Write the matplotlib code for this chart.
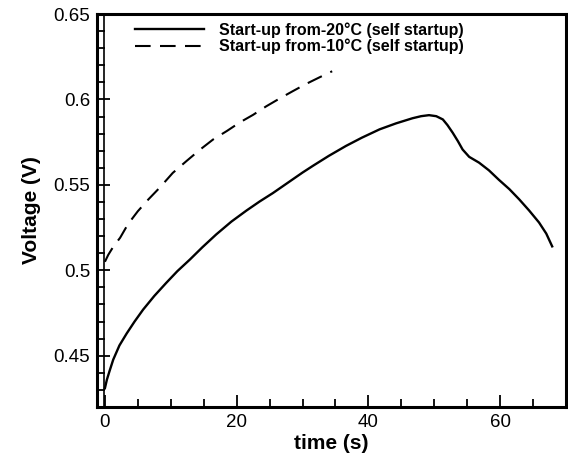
import numpy as np
import matplotlib
matplotlib.use("Agg")
import matplotlib.pyplot as plt
from matplotlib.ticker import MultipleLocator

plt.rcParams['font.family'] = ['Liberation Sans', 'DejaVu Sans']

# Start-up from -20C (self startup)
t_20 = [0.0, 0.3, 0.7, 1.26, 2.2, 3.3, 4.5, 5.8, 7.5, 9.3, 11.0, 12.9, 14.8,
        16.9, 19.2, 21.5, 23.5, 25.5, 27.0, 28.5, 30.0, 31.6, 34.0, 36.6,
        39.0, 41.7, 44.2, 46.7, 48.0, 49.2, 50.3, 51.3, 52.0, 52.8, 53.6, 54.3,
        55.3, 56.8, 58.3, 59.8, 61.4, 62.9, 64.4, 65.9, 67.0, 67.9]
v_20 = [0.431, 0.436, 0.441, 0.4477, 0.456, 0.463, 0.470, 0.477, 0.485,
        0.4926, 0.4995, 0.5063, 0.5135, 0.521, 0.5285, 0.535, 0.5403, 0.5452,
        0.5492, 0.5532, 0.5572, 0.5612, 0.567, 0.5728, 0.5776, 0.5825, 0.586,
        0.589, 0.5902, 0.5908, 0.5902, 0.5883, 0.5850, 0.5805, 0.5755, 0.5707,
        0.5664, 0.5630, 0.5585, 0.5530, 0.5475, 0.5415, 0.5350, 0.5280,
        0.5215, 0.5140]

# Start-up from -10C (self startup)
t_10 = [0.0, 0.5, 1.3, 2.3, 3.5, 5.0, 6.6, 8.3, 10.3, 12.4, 14.4, 16.4, 18.5,
        20.5, 22.5, 24.5, 26.5, 28.5, 30.5, 32.5, 34.5]
v_10 = [0.505, 0.509, 0.514, 0.519, 0.527, 0.5346, 0.5415, 0.5483, 0.557,
        0.564, 0.5705, 0.5765, 0.5815, 0.5866, 0.591, 0.596, 0.6005, 0.6048,
        0.609, 0.6128, 0.6165]

labels = ['Start-up from-20\u00b0C (self startup)',
          'Start-up from-10\u00b0C (self startup)']

fig = plt.figure(figsize=(5.68, 4.58), dpi=100)
ax = fig.add_axes([0.1708, 0.1114, 0.8257, 0.858])

ax.plot(t_20, v_20, color='black', lw=1.7, label=labels[0])
ax.plot(t_10, v_10, color='black', lw=1.5, dashes=(7.5, 4.5), label=labels[1])
ax.axvline(-0.15, color='black', lw=1.2)

ax.set_xlim(-1.2, 70)
ax.set_ylim(0.42, 0.65)
ax.xaxis.set_major_locator(MultipleLocator(20))
ax.xaxis.set_minor_locator(MultipleLocator(5))
ax.yaxis.set_minor_locator(MultipleLocator(0.01))
ax.set_yticks([0.45, 0.5, 0.55, 0.6, 0.65])
ax.set_yticklabels(['0.45', '0.5', '0.55', '0.6', '0.65'])

ax.tick_params(which='both', direction='in', top=False, right=False,
               labelsize=13.5, width=1.3)
ax.tick_params(which='major', length=9, pad=5)
ax.tick_params(which='minor', length=6)
for s in ax.spines.values():
    s.set_linewidth(2.2)

ax.set_xlabel('time (s)', fontsize=15, fontweight='bold', labelpad=2)
ax.set_ylabel('Voltage (V)', fontsize=15, fontweight='bold', labelpad=9)

leg = ax.legend(loc='upper left', bbox_to_anchor=(0.05, 1.015), frameon=False,
                prop={'size': 11.5, 'weight': 'bold'}, handlelength=4.3,
                handletextpad=1.0, labelspacing=0.05)

fig.savefig('out.png', dpi=100)
